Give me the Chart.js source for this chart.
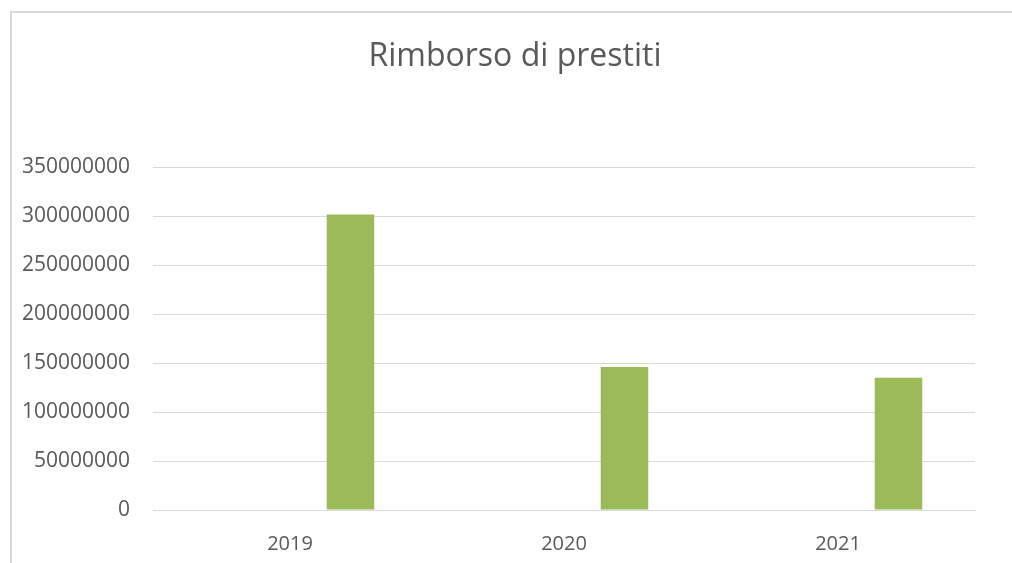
<!DOCTYPE html>
<html>
<head>
<meta charset="utf-8">
<script src="https://cdn.jsdelivr.net/npm/chart.js@4/dist/chart.umd.min.js"></script>
<style>
    html, body { margin: 0; background: #fff; overflow: hidden; }
    #frame { position: absolute; left: 10px; top: 11px; width: 1100px; height: 700px;
             border-left: 2px solid #d9d9d9; border-top: 2px solid #d9d9d9; box-sizing: border-box; }
    #wrap { position: absolute; left: 0; top: 0; width: 1012px; height: 563px; }
</style>
</head>
<body>
<div id="frame"></div>
<div id="wrap"><canvas id="canvasRimborso"></canvas></div>
<script>
var anni = ['2019', '2020', '2021'];
// first series of the sheet has no visible bars, it only keeps its slot
var serieVuota = [null, null, null];
var rimborsi = [301500000, 146000000, 135000000];
var titolo = 'Rimborso di prestiti';
var coloreTesto = '#595959';
var coloreGriglia = '#d9d9d9';

function createDataSet(strlabel, color, data){
    var set = {
        label: strlabel,
        backgroundColor: color,
        borderWidth: 0,
        data: data,
        categoryPercentage: 0.883,
        barPercentage: 0.393
    };
    return set;
}

// title is centred on the whole chart box (which runs past the window), not on the canvas
var titoloPlugin = {
    id: 'titoloBox',
    afterDraw: function(chart){
        var ctx = chart.ctx;
        ctx.save();
        ctx.font = '32px "Open Sans"';
        ctx.fillStyle = coloreTesto;
        ctx.textAlign = 'center';
        ctx.textBaseline = 'alphabetic';
        ctx.fillText(titolo, 515, 66);
        ctx.restore();
    }
};

function createChart(canvas){
    var ctx = document.getElementById(canvas).getContext('2d');
    var chart = new Chart(ctx, {
        type: 'bar',
        data: {
            labels: anni,
            datasets: [
                createDataSet('', '#4f81bd', serieVuota),
                createDataSet('Rimborso di prestiti', '#9bbb59', rimborsi)
            ]
        },
        options: {
            responsive: true,
            maintainAspectRatio: false,
            animation: false,
            layout: { padding: { left: 0, right: 37, top: 167, bottom: 0 } },
            plugins: {
                legend: { display: false },
                tooltip: { enabled: false },
                title: { display: false }
            },
            scales: {
                x: {
                    grid: { display: false, drawTicks: false },
                    border: { display: true, color: coloreGriglia, width: 1 },
                    ticks: {
                        color: coloreTesto,
                        padding: 22,
                        font: { family: 'Open Sans', size: 20 }
                    },
                    afterFit: function(scale){ scale.height = 53; }
                },
                y: {
                    min: 0,
                    max: 350000000,
                    grid: { color: coloreGriglia, lineWidth: 1, drawTicks: false },
                    border: { display: false },
                    ticks: {
                        stepSize: 50000000,
                        color: coloreTesto,
                        padding: 23,
                        font: { family: 'Open Sans', size: 21 },
                        callback: function(value){ return String(value); }
                    },
                    afterFit: function(scale){ scale.width = 153; }
                }
            }
        },
        plugins: [titoloPlugin]
    });
    return chart;
}

createChart('canvasRimborso');
</script>
</body>
</html>
